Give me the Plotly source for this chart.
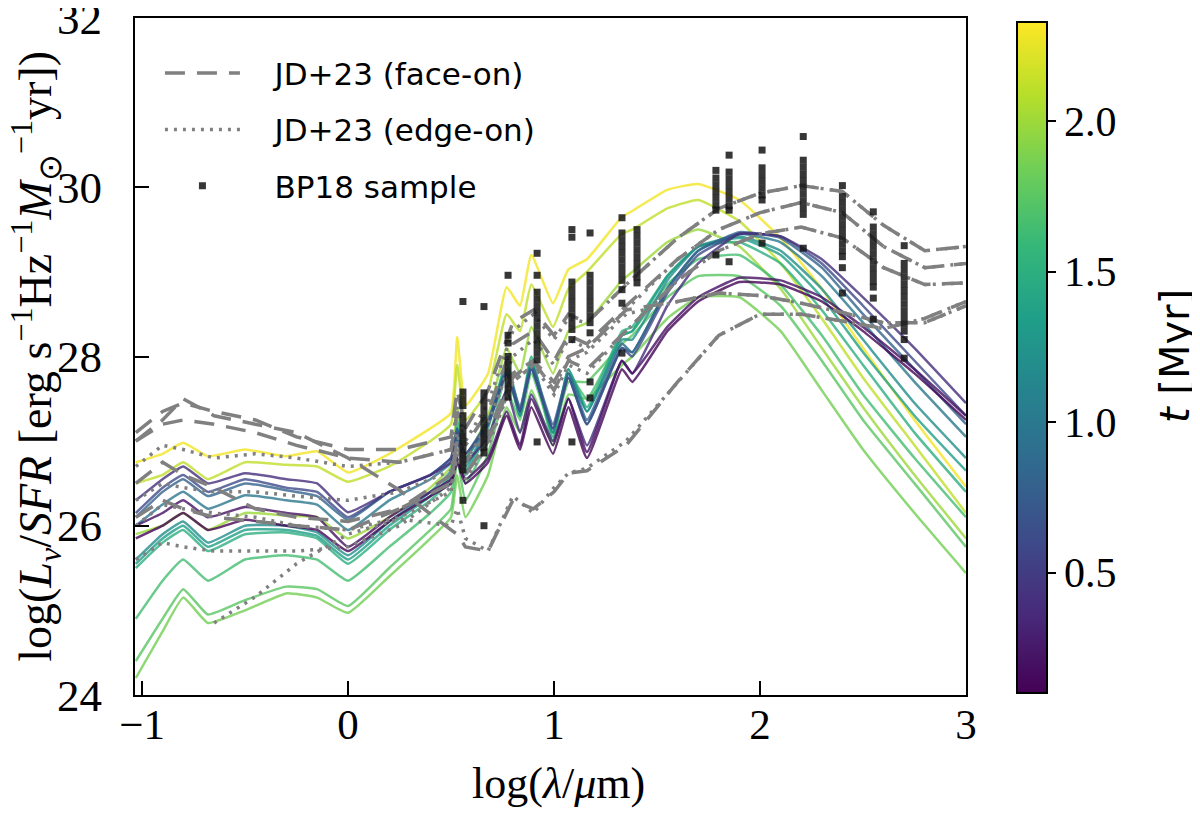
import plotly.graph_objects as go
from plotly.colors import sample_colorscale

# model wavelength grid, log(lambda/um)
log_lam = [-1.03, -0.9, -0.8, -0.68, -0.5, -0.3, -0.15, 0.0, 0.2, 0.4, 0.5, 0.53, 0.57, 0.68,
           0.77, 0.835, 0.89, 0.995, 1.07, 1.16, 1.33, 1.38, 1.55, 1.7, 1.9, 2.1, 2.3, 2.5, 2.75, 3.0]

# cluster age (Myr) of each model SED
ages = [2.30, 2.12, 2.0, 1.85, 1.75, 1.65, 1.5, 1.35, 1.2, 1.0, 0.8, 0.6, 0.4, 0.2, 0.12]

# log(L_nu/SFR) of each model SED, same order as ages
sed_t230 = [26.75, 26.85, 26.98, 26.82, 26.9, 26.82, 26.88, 26.63, 26.85, 27.15, 27.33, 28.23, 27.42, 27.8, 28.82, 28.6, 29.2, 28.63, 29.03, 29.15, 29.65, 29.72, 29.97, 30.04, 29.85, 29.4, 28.8, 28.1, 27.25, 26.46]
sed_t212 = [26.5, 26.6, 26.75, 26.55, 26.75, 26.72, 26.7, 26.52, 26.7, 27.0, 27.2, 27.9, 27.25, 27.6, 28.5, 28.3, 28.85, 28.35, 28.8, 29.0, 29.45, 29.5, 29.75, 29.85, 29.6, 29.1, 28.45, 27.75, 26.95, 26.15]
sed_t200 = [25.9, 26.0, 26.15, 25.95, 26.15, 26.12, 26.1, 25.85, 26.1, 26.45, 26.7, 27.4, 26.8, 27.3, 28.1, 27.8, 28.35, 27.8, 28.3, 28.4, 28.9, 29.0, 29.35, 29.5, 29.3, 28.8, 28.1, 27.4, 26.6, 25.85]
sed_t185 = [24.2, 24.75, 25.15, 24.85, 25.0, 25.2, 25.15, 24.97, 25.4, 25.85, 26.1, 26.6, 26.1, 26.6, 27.4, 27.1, 27.6, 26.95, 27.55, 27.5, 27.9, 28.0, 28.45, 28.7, 28.7, 28.3, 27.6, 26.9, 26.15, 25.44]
sed_t175 = [24.4, 24.9, 25.25, 24.95, 25.12, 25.28, 25.25, 25.05, 25.5, 25.95, 26.2, 26.8, 26.3, 26.85, 27.6, 27.25, 27.8, 27.1, 27.7, 27.7, 28.15, 28.25, 28.7, 28.95, 28.95, 28.6, 27.95, 27.25, 26.5, 25.75]
sed_t165 = [24.9, 25.35, 25.6, 25.35, 25.6, 25.65, 25.6, 25.35, 25.75, 26.15, 26.4, 27.1, 26.5, 27.0, 27.8, 27.3, 27.95, 27.0, 27.8, 27.5, 28.25, 28.3, 28.85, 29.15, 29.2, 28.85, 28.25, 27.55, 26.8, 26.1]
sed_t150 = [25.5, 25.8, 25.95, 25.7, 25.9, 25.92, 25.85, 25.55, 25.95, 26.3, 26.55, 27.25, 26.6, 27.15, 27.95, 27.35, 28.0, 27.05, 27.85, 27.4, 28.3, 28.35, 28.95, 29.3, 29.35, 29.1, 28.55, 27.9, 27.1, 26.4]
sed_t135 = [25.55, 25.85, 26.0, 25.75, 25.95, 25.95, 25.88, 25.6, 26.0, 26.35, 26.6, 27.15, 26.65, 27.2, 27.9, 27.3, 27.95, 27.1, 27.85, 27.35, 28.25, 28.3, 28.95, 29.3, 29.4, 29.2, 28.7, 28.05, 27.3, 26.65]
sed_t120 = [25.6, 25.9, 26.05, 25.8, 26.0, 26.0, 25.92, 25.65, 26.05, 26.4, 26.65, 27.1, 26.7, 27.2, 27.85, 27.3, 27.9, 27.1, 27.8, 27.35, 28.2, 28.2, 28.9, 29.3, 29.42, 29.25, 28.8, 28.2, 27.45, 26.8]
sed_t100 = [26.0, 26.25, 26.4, 26.2, 26.36, 26.3, 26.25, 25.95, 26.3, 26.55, 26.75, 27.15, 26.8, 27.2, 27.8, 27.35, 27.85, 27.15, 27.75, 27.2, 28.1, 28.05, 28.8, 29.25, 29.45, 29.35, 28.95, 28.4, 27.7, 27.05]
sed_t080 = [26.1, 26.4, 26.55, 26.35, 26.5, 26.42, 26.35, 26.07, 26.4, 26.6, 26.8, 27.15, 26.85, 27.25, 27.85, 27.4, 27.9, 27.2, 27.8, 27.25, 28.15, 28.05, 28.8, 29.25, 29.47, 29.4, 29.05, 28.5, 27.85, 27.2]
sed_t060 = [26.15, 26.45, 26.6, 26.4, 26.55, 26.45, 26.4, 26.1, 26.4, 26.6, 26.8, 27.1, 26.85, 27.2, 27.8, 27.35, 27.85, 27.15, 27.75, 27.2, 28.1, 28.0, 28.75, 29.2, 29.45, 29.42, 29.1, 28.6, 27.95, 27.3]
sed_t040 = [26.3, 26.55, 26.7, 26.5, 26.62, 26.55, 26.5, 26.16, 26.4, 26.6, 26.75, 27.0, 26.75, 27.05, 27.6, 27.1, 27.55, 27.0, 27.5, 26.95, 27.95, 27.8, 28.6, 29.1, 29.45, 29.42, 29.15, 28.7, 28.1, 27.45]
sed_t020 = [26.0, 26.15, 26.3, 26.1, 26.22, 26.15, 26.1, 25.75, 26.1, 26.4, 26.55, 26.8, 26.55, 26.8, 27.35, 26.95, 27.5, 26.95, 27.5, 26.87, 27.95, 27.8, 28.35, 28.7, 28.93, 28.9, 28.7, 28.35, 27.85, 27.3]
sed_t012 = [25.85, 26.0, 26.15, 25.95, 26.07, 26.0, 25.95, 25.7, 26.05, 26.35, 26.5, 26.75, 26.5, 26.75, 27.3, 26.9, 27.4, 26.85, 27.4, 26.8, 27.85, 27.7, 28.3, 28.65, 28.88, 28.85, 28.65, 28.3, 27.8, 27.25]

seds = [sed_t230, sed_t212, sed_t200, sed_t185, sed_t175, sed_t165, sed_t150, sed_t135,
        sed_t120, sed_t100, sed_t080, sed_t060, sed_t040, sed_t020, sed_t012]

# JD+23 models
jd_lam = [-1.03, -0.9, -0.8, -0.65, -0.45, -0.25, 0.0, 0.25, 0.5, 0.53, 0.57, 0.68, 0.8, 0.9,
          1.0, 1.07, 1.16, 1.35, 1.6, 1.8, 2.0, 2.2, 2.4, 2.6, 2.8, 3.0]

jd_face = [
    [27.1, 27.35, 27.45, 27.35, 27.25, 27.05, 26.9, 26.9, 27.05, 27.6, 27.15, 27.6, 28.4, 28.55, 28.25, 28.5, 28.4, 28.85, 29.4, 29.75, 29.93, 30.02, 29.95, 29.55, 29.25, 29.3],
    [27.0, 27.2, 27.25, 27.2, 27.1, 26.95, 26.8, 26.75, 26.9, 27.35, 26.95, 27.35, 28.15, 28.3, 27.95, 28.25, 28.15, 28.6, 29.15, 29.5, 29.7, 29.82, 29.7, 29.3, 29.05, 29.1],
    [26.5, 26.75, 26.6, 26.45, 26.2, 26.1, 26.05, 26.2, 26.5, 26.95, 26.6, 27.0, 27.75, 27.95, 27.6, 27.95, 27.85, 28.3, 28.9, 29.25, 29.45, 29.53, 29.4, 29.05, 28.85, 28.87],
    [27.0, 27.25, 27.5, 27.3, 27.2, 27.1, 26.8, 26.42, 25.95, 25.9, 25.75, 25.7, 26.3, 26.2, 26.4, 26.62, 26.65, 26.95, 27.7, 28.25, 28.5, 28.5, 28.42, 28.33, 28.45, 28.65],
    [26.1, 26.3, 26.2, 26.1, 26.05, 26.0, 25.95, 26.2, 26.6, 27.0, 26.75, 27.1, 27.8, 27.95, 27.7, 28.0, 28.1, 28.55, 28.65, 28.75, 28.72, 28.63, 28.52, 28.4, 28.4, 28.6],
]
jd_edge = [
    [26.7, 26.95, 26.9, 26.8, 26.85, 26.8, 26.7, 26.75, 26.9, 27.4, 27.0, 27.45, 28.3, 28.5, 28.2, 28.45, 28.4, 28.85, 29.4, 29.75, 29.93, 30.02, 29.95, 29.55, 29.25, 29.3],
    [26.3, 26.5, 26.45, 26.4, 26.4, 26.35, 26.3, 26.4, 26.65, 27.1, 26.75, 27.2, 28.0, 28.2, 27.9, 28.2, 28.1, 28.55, 29.15, 29.5, 29.7, 29.82, 29.7, 29.3, 29.05, 29.1],
    [26.0, 26.25, 26.2, 26.15, 26.1, 26.0, 25.95, 26.1, 26.4, 26.85, 26.55, 26.95, 27.7, 27.9, 27.55, 27.9, 27.8, 28.3, 28.9, 29.25, 29.45, 29.53, 29.4, 29.05, 28.85, 28.87],
    [None, None, None, 24.85, 25.16, 25.55, 25.9, 26.08, 26.0, 26.2, 25.85, 25.7, 26.35, 26.15, 26.45, 26.62, 26.68, 27.0, 27.7, 28.25, 28.5, 28.5, 28.42, 28.33, 28.45, 28.65],
    [25.6, 25.8, 25.75, 25.7, 25.7, 25.7, 25.75, 26.0, 26.45, 26.85, 26.6, 27.0, 27.7, 27.9, 27.65, 27.95, 28.05, 28.5, 28.65, 28.75, 28.72, 28.63, 28.52, 28.4, 28.4, 28.6],
]

# BP18 sample: photometric bands and the galaxies' values in each band
bp18_lam = [0.558, 0.66, 0.777, 0.918, 1.087, 1.175, 1.33, 1.403, 1.786, 1.85, 2.01, 2.21, 2.40, 2.55, 2.70]
bp18_vals = [
    [28.65, 27.58, 27.5, 27.42, 27.3, 27.22, 27.14, 27.06, 26.98, 26.9, 26.82, 26.74, 26.66, 26.3],
    [28.59, 27.57, 27.49, 27.41, 27.33, 27.25, 27.17, 27.09, 27.01, 26.93, 26.86, 26.0],
    [28.96, 28.25, 28.16, 28.0, 27.92, 27.84, 27.76, 27.68, 27.6, 27.52],
    [29.22, 28.96, 28.76, 28.68, 28.6, 28.52, 28.44, 28.36, 28.28, 28.2, 28.12, 28.04, 27.96, 26.99],
    [29.5, 29.41, 28.88, 28.8, 28.72, 28.64, 28.56, 28.48, 28.4, 28.32, 28.2, 26.99],
    [29.46, 28.96, 28.88, 28.8, 28.72, 28.64, 28.56, 28.48, 28.4, 28.28, 27.7, 27.51],
    [29.64, 29.46, 29.38, 29.3, 29.22, 29.14, 29.06, 28.98, 28.9, 28.79, 28.63, 28.04],
    [29.5, 29.42, 29.34, 29.26, 29.18, 29.1, 29.02, 28.94, 28.87],
    [30.2, 30.11, 30.03, 29.95, 29.87, 29.79, 29.73, 29.2],
    [30.38, 30.18, 30.1, 30.02, 29.94, 29.86, 29.78, 29.73, 29.12],
    [30.44, 30.23, 30.15, 30.07, 29.99, 29.91, 29.85, 29.34],
    [30.6, 30.32, 30.24, 30.16, 30.08, 30.0, 29.92, 29.84, 29.76, 29.68, 29.28],
    [30.02, 29.89, 29.81, 29.73, 29.65, 29.57, 29.49, 29.41, 29.33, 29.25, 29.18, 29.05, 28.75],
    [29.71, 29.53, 29.45, 29.37, 29.29, 29.21, 29.13, 29.05, 28.97, 28.89, 28.82, 28.69, 28.44],
    [29.31, 29.1, 29.02, 28.94, 28.86, 28.78, 28.7, 28.62, 28.54, 28.46, 28.38, 28.3, 28.2, 27.98],
]

t_min, t_max = 0.1, 2.33
serif = "Liberation Serif"
sans = "DejaVu Sans"
pad = "\u00a0\u00a0\u00a0"  # gap between legend symbol and text

fig = go.Figure()

# model SEDs coloured by age
for t, sed in zip(ages, seds):
    col = sample_colorscale("Viridis", [(t - t_min) / (t_max - t_min)])[0]
    fig.add_trace(go.Scatter(x=log_lam, y=sed, mode="lines",
                             line=dict(color=col, width=2.5, shape="spline", smoothing=0.4),
                             opacity=0.8, showlegend=False, hoverinfo="skip"))

# JD+23 face-on / edge-on
for i, ys in enumerate(jd_face):
    fig.add_trace(go.Scatter(x=jd_lam, y=ys, mode="lines", name=pad + "JD+23 (face-on)",
                             line=dict(color="grey", width=3.5, dash="20px,12px"),
                             legendgroup="face", showlegend=(i == 0)))
for i, ys in enumerate(jd_edge):
    fig.add_trace(go.Scatter(x=jd_lam, y=ys, mode="lines", name=pad + "JD+23 (edge-on)",
                             line=dict(color="grey", width=3.5, dash="3px,6px"),
                             legendgroup="edge", showlegend=(i == 0)))

bx, by = [], []
for lam, vals in zip(bp18_lam, bp18_vals):
    bx += [lam] * len(vals)
    by += vals
fig.add_trace(go.Scatter(x=bx, y=by, mode="markers", name=pad + "BP18 sample", legendgroup="bp",
                         marker=dict(symbol="square", size=7, color="rgba(20,20,20,0.85)")))

# colorbar for the ages
fig.add_trace(go.Scatter(
    x=[None], y=[None], mode="markers", showlegend=False,
    marker=dict(colorscale="Viridis", cmin=t_min, cmax=t_max, color=[t_min], showscale=True,
                colorbar=dict(x=1.061, xanchor="left", xpad=0, y=0.4985, yanchor="middle",
                              ypad=0, len=0.991, thickness=30, outlinecolor="black", outlinewidth=2,
                              ticks="outside", ticklen=8, tickwidth=1.5, tickcolor="black",
                              tickvals=[0.5, 1.0, 1.5, 2.0], ticktext=["0.5", "1.0", "1.5", "2.0"],
                              tickfont=dict(family=serif, size=42, color="black")))))

fig.update_layout(
    width=1200, height=816,
    # the page adds an 8px body margin, so the plot box is placed 8px up/left of the target
    margin=dict(l=127, r=242, t=10, b=129),
    plot_bgcolor="white", paper_bgcolor="white",
    legend=dict(x=0.03, y=0.958, xanchor="left", yanchor="top", bgcolor="rgba(0,0,0,0)",
                font=dict(family=sans, size=31, color="black"), itemwidth=75, tracegroupgap=13),
    annotations=[
        dict(text="log(<i>\u03bb</i>/<i>\u03bc</i>m)", xref="paper", yref="paper",
             x=0.51, y=-0.13, xanchor="center", yanchor="middle", showarrow=False,
             font=dict(family=serif, size=44, color="black")),
        dict(text="log(<i>L</i><sub><i>\u03bd</i></sub>/<i>SFR</i> [erg s<sup>\u22121</sup>Hz<sup>\u22121</sup>"
                  "<i>M</i><sub>\u2299</sub><sup>\u22121</sup>yr])",
             xref="paper", yref="paper", x=-0.12, y=0.5, textangle=-90,
             xanchor="center", yanchor="middle", showarrow=False,
             font=dict(family=serif, size=46, color="black")),
        dict(text="<i>t</i> [Myr]", xref="paper", yref="paper", x=1.251, y=0.5, textangle=-90,
             xanchor="center", yanchor="middle", showarrow=False,
             font=dict(family=sans, size=40, color="black")),
    ],
)
fig.update_xaxes(
    range=[-1.034, 3.0], tickvals=[-1, 0, 1, 2, 3], ticktext=["\u22121", "0", "1", "2", "3"],
    ticks="inside", ticklen=14, tickwidth=2, tickcolor="black", automargin=False,
    showline=True, linecolor="black", linewidth=2, mirror=True, showgrid=False, zeroline=False,
    tickfont=dict(family=serif, size=43, color="black"), ticklabelstandoff=-10,
    ticklabeloverflow="allow",
)
fig.update_yaxes(
    range=[23.999, 32.001], tickvals=[24, 26, 28, 30, 32],
    ticks="inside", ticklen=14, tickwidth=2, tickcolor="black", automargin=False,
    showline=True, linecolor="black", linewidth=2, mirror=True, showgrid=False, zeroline=False,
    tickfont=dict(family=serif, size=45, color="black"), ticklabelstandoff=22,
    ticklabeloverflow="allow",
)

fig.write_html("out.html")
